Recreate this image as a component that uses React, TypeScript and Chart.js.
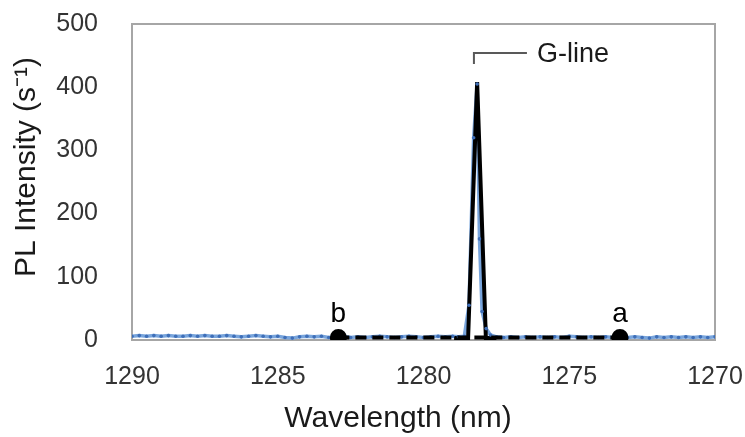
import React, { useEffect, useRef } from "react";
import { Chart, registerables } from "chart.js";

Chart.register(...registerables);

// Measured spectrum (blue markers)
const wavelengths: number[] = [
  1290.0, 1289.75, 1289.5, 1289.25, 1289.0, 1288.75, 1288.5, 1288.25, 1288.0, 1287.75,
  1287.5, 1287.25, 1287.0, 1286.75, 1286.5, 1286.25, 1286.0, 1285.75, 1285.5, 1285.25,
  1285.0, 1284.75, 1284.5, 1284.25, 1284.0, 1283.75, 1283.5, 1283.25, 1283.0, 1282.75,
  1282.5, 1282.25, 1282.0, 1281.75, 1281.5, 1281.25, 1281.0, 1280.75, 1280.5, 1280.25,
  1280.0, 1279.75, 1279.5, 1279.25, 1279.0, 1278.8, 1278.6, 1278.44, 1278.28, 1278.16,
  1278.08, 1277.99, 1277.85, 1277.7, 1277.5, 1277.25, 1277.0, 1276.75, 1276.5, 1276.25,
  1276.0, 1275.75, 1275.5, 1275.25, 1275.0, 1274.75, 1274.5, 1274.25, 1274.0, 1273.75,
  1273.5, 1273.25, 1273.0, 1272.75, 1272.5, 1272.25, 1272.0, 1271.75, 1271.5, 1271.25,
  1271.0, 1270.75, 1270.5, 1270.25, 1270.0,
];
const intensities: number[] = [
  6, 7, 6, 7, 6, 7, 6, 6, 7, 6,
  7, 6, 6, 7, 6, 5, 6, 7, 6, 5,
  6, 4, 3, 5, 6, 5, 6, 4, 5, 6,
  4, 5, 4, 5, 6, 5, 4, 5, 6, 5,
  4, 5, 6, 5, 6, 5, 6, 55, 320, 405,
  160, 45, 18, 8, 5, 4, 5, 4, 5, 4,
  5, 4, 5, 4, 6, 5, 4, 5, 4, 5,
  4, 5, 4, 5, 4, 3, 5, 4, 5, 4,
  5, 4, 5, 4, 5,
];

// G-line peak trace (solid black)
const peakX: number[] = [1278.95, 1278.47, 1278.16, 1277.86, 1277.5];
const peakY: number[] = [3, 3, 408, 3, 3];

// Baseline between points b and a (dashed black)
const baseX: number[] = [1282.92, 1273.26];
const baseY: number[] = [4, 4];
const baseLabels: string[] = ["b", "a"];

const peakLabel = "G-line";
const peakLabelX = 1278.27;

const xTicks: number[] = [1290, 1285, 1280, 1275, 1270];
const yTicks: number[] = [0, 100, 200, 300, 400, 500];

const xTitle = "Wavelength (nm)";
const yTitle = "PL Intensity (s⁻¹)";

const FONT = "'Liberation Sans', Arial, sans-serif";

const decorPlugin = {
  id: "decor",
  beforeDatasetsDraw(chart: any) {
    const { ctx, chartArea } = chart;
    ctx.save();
    ctx.strokeStyle = "#a6a6a6";
    ctx.lineWidth = 2;
    ctx.strokeRect(chartArea.left, chartArea.top, chartArea.right - chartArea.left, chartArea.bottom - chartArea.top);
    ctx.restore();
  },
  afterDraw(chart: any) {
    const { ctx, scales } = chart;
    const xs = scales.x;
    const ys = scales.y;
    ctx.save();
    // b / a labels
    ctx.fillStyle = "#000";
    ctx.font = `28px ${FONT}`;
    ctx.textAlign = "center";
    ctx.textBaseline = "alphabetic";
    baseX.forEach((x, i) => {
      ctx.fillText(baseLabels[i], xs.getPixelForValue(x), ys.getPixelForValue(baseY[i]) - 15);
    });
    // G-line bracket
    const px = xs.getPixelForValue(peakLabelX);
    const topY = ys.getPixelForValue(454);
    ctx.strokeStyle = "#595959";
    ctx.lineWidth = 2;
    ctx.beginPath();
    ctx.moveTo(px, topY + 11);
    ctx.lineTo(px, topY);
    ctx.lineTo(px + 53, topY);
    ctx.stroke();
    ctx.fillStyle = "#1a1a1a";
    ctx.font = `27px ${FONT}`;
    ctx.textAlign = "left";
    ctx.textBaseline = "middle";
    ctx.fillText(peakLabel, px + 63, topY + 1);
    // axis titles
    ctx.fillStyle = "#1a1a1a";
    ctx.font = `30px ${FONT}`;
    ctx.textAlign = "center";
    ctx.textBaseline = "middle";
    ctx.fillText(xTitle, 398, 419);
    ctx.translate(27, 167);
    ctx.rotate(-Math.PI / 2);
    ctx.fillText(yTitle, 0, 0);
    ctx.restore();
  },
};

export default function App() {
  const ref = useRef<HTMLCanvasElement | null>(null);
  useEffect(() => {
    document.body.style.margin = "0";
    if (!ref.current) return;
    const spectrum = wavelengths.map((x, i) => ({ x, y: intensities[i] }));
    const chart = new Chart(ref.current, {
      type: "scatter",
      data: {
        datasets: [
          {
            label: "spectrum markers",
            data: spectrum,
            showLine: false,
            pointRadius: 1.8,
            pointBackgroundColor: "#3f6fb8",
            pointBorderColor: "#3f6fb8",
            pointBorderWidth: 0,
            order: -1,
          },
          {
            label: "peak",
            data: peakX.map((x, i) => ({ x, y: peakY[i] })),
            showLine: true,
            borderColor: "#000",
            borderWidth: 4,
            pointRadius: 0,
            order: 1,
          },
          {
            label: "baseline",
            data: baseX.map((x, i) => ({ x, y: baseY[i] })),
            showLine: true,
            borderColor: "#000",
            borderWidth: 4,
            borderDash: [11, 6],
            pointRadius: 6.5,
            pointBackgroundColor: "#000",
            pointBorderColor: "#000",
            order: -2,
          },
          {
            label: "spectrum",
            data: spectrum,
            showLine: true,
            borderColor: "#79a5dc",
            borderWidth: 3.5,
            pointRadius: 0,
            order: 3,
          },
        ],
      },
      options: {
        responsive: false,
        animation: false,
        layout: { padding: { top: 24, right: 30, left: 0, bottom: 0 } },
        plugins: { legend: { display: false }, tooltip: { enabled: false } },
        scales: {
          x: {
            type: "linear",
            reverse: true,
            min: 1270,
            max: 1290,
            afterFit: (a: any) => { a.height = 97; a.paddingLeft = 0; a.paddingRight = 0; },
            afterBuildTicks: (a: any) => { a.ticks = xTicks.map((v) => ({ value: v })); },
            grid: { display: false, drawTicks: false },
            border: { display: false },
            ticks: {
              padding: 22,
              color: "#333",
              font: { family: FONT, size: 25 },
              callback: (v: any) => String(v),
            },
          },
          y: {
            min: 0,
            max: 500,
            afterFit: (a: any) => { a.width = 132; a.paddingTop = 0; a.paddingBottom = 0; },
            afterBuildTicks: (a: any) => { a.ticks = yTicks.map((v) => ({ value: v })); },
            grid: { display: false, drawTicks: false },
            border: { display: false },
            ticks: {
              padding: 34,
              color: "#333",
              font: { family: FONT, size: 25 },
              callback: (v: any) => String(v),
            },
          },
        },
      },
      plugins: [decorPlugin],
    });
    return () => chart.destroy();
  }, []);
  return (
    <div style={{ width: 745, height: 437, background: "#fff" }}>
      <canvas ref={ref} width={745} height={437} />
    </div>
  );
}
